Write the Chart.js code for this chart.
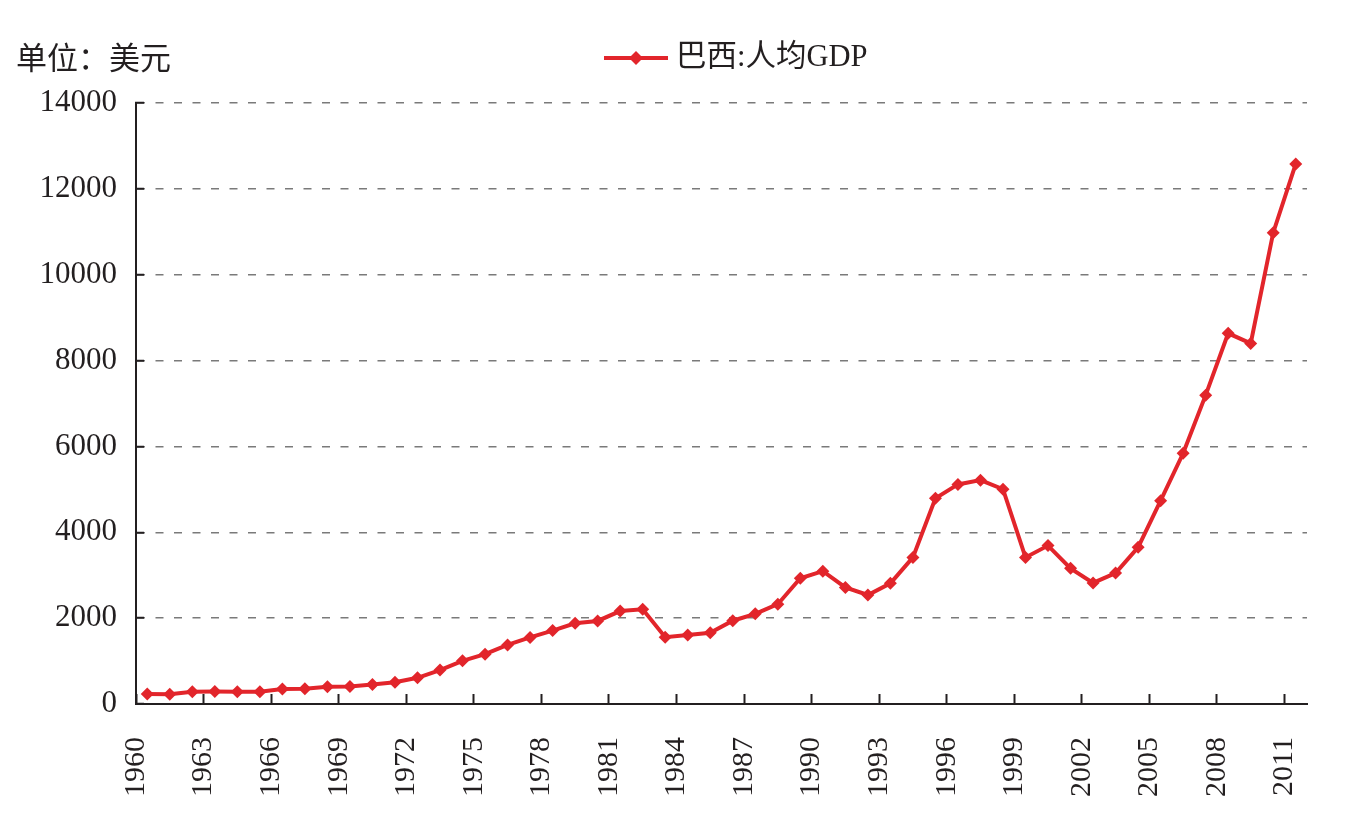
<!DOCTYPE html>
<html>
<head>
<meta charset="utf-8">
<script src="https://cdn.jsdelivr.net/npm/chart.js@4"></script>
<style>
  html, body { margin: 0; padding: 0; background: #fff; }
  #wrap { width: 1355px; height: 837px; position: relative; }
</style>
</head>
<body>
<div id="wrap"><canvas id="gdpChart"></canvas></div>
<script>
const years = [
  1960, 1961, 1962, 1963, 1964, 1965, 1966, 1967, 1968, 1969,
  1970, 1971, 1972, 1973, 1974, 1975, 1976, 1977, 1978, 1979,
  1980, 1981, 1982, 1983, 1984, 1985, 1986, 1987, 1988, 1989,
  1990, 1991, 1992, 1993, 1994, 1995, 1996, 1997, 1998, 1999,
  2000, 2001, 2002, 2003, 2004, 2005, 2006, 2007, 2008, 2009,
  2010, 2011
];
const gdpPerCapita = [
  235, 230, 285, 290, 285, 285, 350, 355, 400, 405,
  455, 505, 610, 790, 1005, 1160, 1375, 1550, 1710, 1880,
  1935, 2165, 2205, 1555, 1605, 1660, 1940, 2100, 2325, 2930,
  3095, 2715, 2540, 2810, 3415, 4790, 5115, 5215, 5005, 3415,
  3690, 3160, 2820, 3050, 3650, 4735, 5840, 7195, 8635, 8400,
  10980, 12580
];
const xTickYears = [1960, 1963, 1966, 1969, 1972, 1975, 1978, 1981, 1984,
                    1987, 1990, 1993, 1996, 1999, 2002, 2005, 2008, 2011];
const yTicks = [0, 2000, 4000, 6000, 8000, 10000, 12000, 14000];
const seriesName = '巴西:人均GDP';
const unitLabel = '单位：美元';

const red = '#e2252b';
const fontFamily = "'Liberation Serif', 'Noto Sans CJK SC', serif";

const headerPlugin = {
    id: 'header',
    afterDraw(chart) {
        const ctx = chart.ctx;
        ctx.save();
        ctx.fillStyle = '#231f20';
        ctx.textBaseline = 'middle';
        ctx.font = "31px 'Noto Sans CJK SC', sans-serif";
        ctx.fillText(unitLabel, 16, 57);

        // legend: line + diamond + text
        ctx.strokeStyle = red;
        ctx.lineWidth = 4;
        ctx.beginPath();
        ctx.moveTo(604, 58);
        ctx.lineTo(668, 58);
        ctx.stroke();
        ctx.fillStyle = red;
        ctx.beginPath();
        ctx.moveTo(636, 51);
        ctx.lineTo(643, 58);
        ctx.lineTo(636, 65);
        ctx.lineTo(629, 58);
        ctx.closePath();
        ctx.fill();

        ctx.fillStyle = '#231f20';
        ctx.font = "30.5px " + fontFamily;
        ctx.fillText(seriesName, 676, 58);
        ctx.restore();
    }
};

const ctx = document.getElementById('gdpChart');
new Chart(ctx, {
    type: 'line',
    data: {
        datasets: [{
            label: seriesName,
            data: years.map((yr, i) => ({ x: yr + 0.5, y: gdpPerCapita[i] })),
            borderColor: red,
            backgroundColor: red,
            borderWidth: 4,
            pointStyle: 'rectRot',
            pointRadius: 6.5,
            pointBorderWidth: 0,
            pointBackgroundColor: red,
            tension: 0
        }]
    },
    options: {
        responsive: true,
        maintainAspectRatio: false,
        animation: false,
        layout: {
            padding: { top: 103, left: 0, right: 48, bottom: 0 }
        },
        plugins: {
            legend: { display: false },
            tooltip: { enabled: false }
        },
        scales: {
            x: {
                type: 'linear',
                min: years[0],
                max: years[years.length - 1] + 1,
                afterFit: function (scale) {
                    scale.height = 133;
                    scale.paddingLeft = 0;
                    scale.paddingRight = 0;
                },
                afterBuildTicks: function (scale) {
                    scale.ticks = xTickYears.map(v => ({ value: v }));
                },
                ticks: {
                    autoSkip: false,
                    minRotation: 90,
                    maxRotation: 90,
                    padding: 43,
                    color: '#231f20',
                    font: { family: fontFamily, size: 30 },
                    callback: function (v) { return String(v); }
                },
                grid: {
                    drawOnChartArea: false,
                    drawTicks: true,
                    tickLength: -10,
                    tickColor: '#231f20',
                    tickWidth: 2
                },
                border: { color: '#231f20', width: 2 }
            },
            y: {
                min: yTicks[0],
                max: yTicks[yTicks.length - 1],
                afterFit: function (scale) { scale.width = 136; },
                afterBuildTicks: function (scale) {
                    scale.ticks = yTicks.map(v => ({ value: v }));
                },
                ticks: {
                    padding: 27,
                    color: '#231f20',
                    font: { family: fontFamily, size: 31 },
                    callback: function (v) { return String(v); }
                },
                grid: {
                    color: function (c) { return c.tick && c.tick.value === 0 ? 'rgba(0,0,0,0)' : '#7a7a7a'; },
                    lineWidth: 1.5,
                    drawTicks: true,
                    tickLength: -8,
                    tickColor: '#231f20',
                    tickWidth: 2
                },
                border: { color: '#231f20', width: 2, dash: [8, 10.5] }
            }
        }
    },
    plugins: [headerPlugin]
});
</script>
</body>
</html>
